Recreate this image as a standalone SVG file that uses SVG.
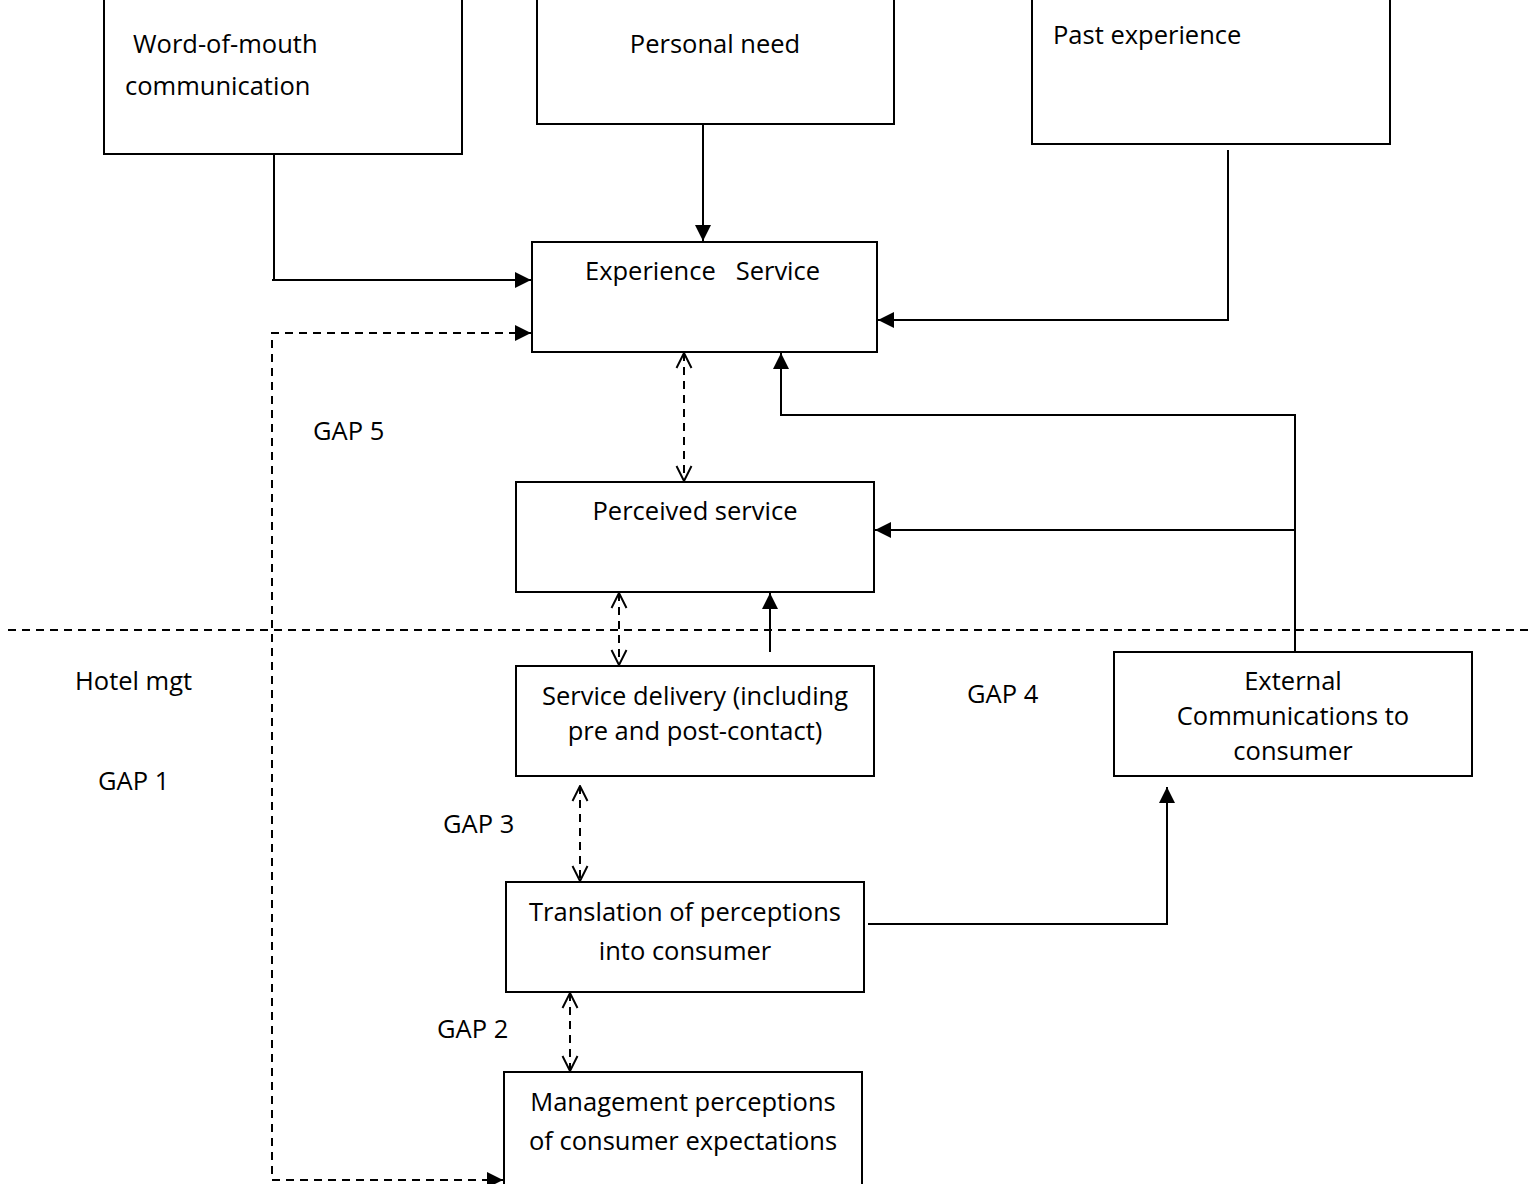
<svg xmlns="http://www.w3.org/2000/svg" width="1533" height="1184" viewBox="0 0 1533 1184">
<style>
.box{fill:#fff;stroke:#000;stroke-width:2}
.t{font-family:"Open Sans","Liberation Sans",sans-serif;font-size:25.5px;fill:#000}
.c{text-anchor:middle}
.ln{fill:none;stroke:#000;stroke-width:2}
.ds{fill:none;stroke:#000;stroke-width:2;stroke-dasharray:8,6}
</style>
<defs>
<marker id="fa" viewBox="0 0 10 10" refX="10" refY="5" markerWidth="16" markerHeight="16" markerUnits="userSpaceOnUse" orient="auto-start-reverse">
<path d="M0,0 L10,5 L0,10 Z" fill="#000"/>
</marker>
<marker id="oa" viewBox="0 0 12 12" refX="11" refY="6" markerWidth="18" markerHeight="18" markerUnits="userSpaceOnUse" orient="auto-start-reverse">
<path d="M1,1 L11,6 L1,11" fill="none" stroke="#000" stroke-width="1.3"/>
</marker>
</defs>
<rect width="1533" height="1184" fill="#fff"/>
<g id="connectors">
<path class="ln" d="M274,154 V280"/>
<path class="ln" d="M272,280 H531" marker-end="url(#fa)"/>
<path class="ln" d="M703,124 V241" marker-end="url(#fa)"/>
<path class="ln" d="M1228,150 V320 H878" marker-end="url(#fa)"/>
<path class="ds" d="M531,333 H272 V1180 H503" marker-start="url(#fa)" marker-end="url(#fa)"/>
<path class="ds" d="M684,353 V481" marker-start="url(#oa)" marker-end="url(#oa)"/>
<path class="ds" d="M619,593 V665" marker-start="url(#oa)" marker-end="url(#oa)"/>
<path class="ds" d="M580,786 V881" marker-start="url(#oa)" marker-end="url(#oa)"/>
<path class="ds" d="M570,993 V1071" marker-start="url(#oa)" marker-end="url(#oa)"/>
<path class="ln" d="M770,652 V593" marker-end="url(#fa)"/>
<path class="ln" d="M1295,652 V415 H781 V353" marker-end="url(#fa)"/>
<path class="ln" d="M1295,530 H875" marker-end="url(#fa)"/>
<path class="ln" d="M868,924 H1167 V787" marker-end="url(#fa)"/>
<path class="ds" d="M8,630 H1533"/>
</g>
<g id="word-of-mouth"><rect class="box" x="104" y="-2" width="358" height="156"/>
<text class="t" x="133" y="53">Word-of-mouth</text><text class="t" x="125" y="95">communication</text></g>
<g id="personal-need"><rect class="box" x="537" y="-2" width="357" height="126"/>
<text class="t c" x="715" y="53">Personal need</text></g>
<g id="past-experience"><rect class="box" x="1032" y="-2" width="358" height="146"/>
<text class="t" x="1053" y="44">Past experience</text></g>
<g id="experience-service"><rect class="box" x="532" y="242" width="345" height="110"/>
<text class="t" x="585" y="280" xml:space="preserve">Experience   Service</text></g>
<g id="perceived-service"><rect class="box" x="516" y="482" width="358" height="110"/>
<text class="t c" x="695" y="520">Perceived service</text></g>
<g id="service-delivery"><rect class="box" x="516" y="666" width="358" height="110"/>
<text class="t c" x="695" y="705">Service delivery (including</text><text class="t c" x="695" y="740">pre and post-contact)</text></g>
<g id="external-communications"><rect class="box" x="1114" y="652" width="358" height="124"/>
<text class="t c" x="1293" y="690">External</text><text class="t c" x="1293" y="725">Communications to</text><text class="t c" x="1293" y="760">consumer</text></g>
<g id="translation"><rect class="box" x="506" y="882" width="358" height="110"/>
<text class="t c" x="685" y="921">Translation of perceptions</text><text class="t c" x="685" y="960">into consumer</text></g>
<g id="management"><rect class="box" x="504" y="1072" width="358" height="114"/>
<text class="t c" x="683" y="1111">Management perceptions</text><text class="t c" x="683" y="1150">of consumer expectations</text></g>
<g id="labels">
<text class="t" x="313" y="440">GAP 5</text>
<text class="t" x="75" y="690">Hotel mgt</text>
<text class="t" x="98" y="790">GAP 1</text>
<text class="t" x="443" y="833">GAP 3</text>
<text class="t" x="967" y="703">GAP 4</text>
<text class="t" x="437" y="1038">GAP 2</text>
</g>
</svg>
